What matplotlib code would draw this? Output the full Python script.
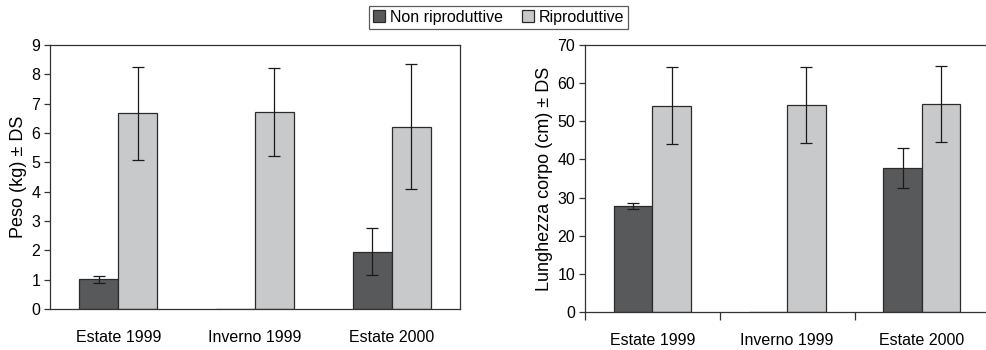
import matplotlib
matplotlib.use("Agg")
import matplotlib.pyplot as plt
import numpy as np

plt.rcParams['font.family'] = ['Liberation Sans', 'DejaVu Sans']

categories = ["Estate 1999", "Inverno 1999", "Estate 2000"]
series_names = ["Non riproduttive", "Riproduttive"]

peso_non = [1.02, 0.0, 1.95]
peso_non_sd = [0.12, 0.0, 0.80]
peso_rip = [6.67, 6.73, 6.22]
peso_rip_sd = [1.58, 1.50, 2.13]

lung_non = [27.8, 0.0, 37.8]
lung_non_sd = [0.9, 0.0, 5.2]
lung_rip = [54.1, 54.3, 54.5]
lung_rip_sd = [10.0, 10.0, 10.0]

dark = "#58595b"
light = "#c8c9cb"
edge = "#2b2b2b"

fig = plt.figure(figsize=(9.86, 3.5), dpi=100)
ax1 = fig.add_axes([0.0507, 0.1171, 0.4158, 0.7543])
ax2 = fig.add_axes([0.5933, 0.1086, 0.4100, 0.7629])

x = np.arange(len(categories))
w = 0.285
tfs = 11.5

def draw(ax, non, non_sd, rip, rip_sd):
    ekw = dict(ecolor="#1a1a1a", elinewidth=0.9, capsize=4.3, capthick=0.9)
    non_err = [s if s > 0 else np.nan for s in non_sd]
    ax.bar(x - w/2, non, w, color=dark, edgecolor=edge, linewidth=0.9,
           label=series_names[0], zorder=2)
    ax.errorbar(x - w/2, non, yerr=non_err, fmt='none', zorder=3, **ekw)
    ax.bar(x + w/2, rip, w, color=light, edgecolor=edge, linewidth=0.9,
           label=series_names[1], zorder=2)
    ax.errorbar(x + w/2, rip, yerr=rip_sd, fmt='none', zorder=3, **ekw)
    ax.set_xlim(-0.5, 2.5)
    for s in ax.spines.values():
        s.set_color("#333333")
        s.set_linewidth(0.9)
    ax.tick_params(axis='y', direction='out', length=4, width=0.9,
                   labelsize=tfs, color="#333333", pad=3)

draw(ax1, peso_non, peso_non_sd, peso_rip, peso_rip_sd)
ax1.set_ylim(0, 9)
ax1.set_yticks(range(0, 10))
ax1.set_xticks(x)
ax1.set_xticklabels(categories)
ax1.tick_params(axis='x', length=0, labelsize=tfs, pad=15)
ax1.set_ylabel("Peso (kg) ± DS", fontsize=13, labelpad=3)

draw(ax2, lung_non, lung_non_sd, lung_rip, lung_rip_sd)
ax2.set_ylim(0, 70)
ax2.set_yticks(range(0, 71, 10))
ax2.set_xticks([-0.5, 0.5, 1.5, 2.5])
ax2.set_xticklabels([])
ax2.set_xticks(x, minor=True)
ax2.set_xticklabels(categories, minor=True)
ax2.tick_params(axis='x', which='major', direction='out', length=6, width=0.9, color="#333333")
ax2.tick_params(axis='x', which='minor', length=0, labelsize=tfs, pad=15)
ax2.set_ylabel("Lunghezza corpo (cm) ± DS", fontsize=13, labelpad=3)

handles, labels = ax1.get_legend_handles_labels()
leg = fig.legend(handles, labels, loc='center', bbox_to_anchor=(0.5056, 0.951),
                 ncol=2, fontsize=11.5, frameon=True, fancybox=False,
                 handlelength=0.75, handleheight=0.75, handletextpad=0.3,
                 columnspacing=1.2, borderpad=0.25, borderaxespad=0)
leg.get_frame().set_edgecolor("#333333")
leg.get_frame().set_linewidth(0.9)

fig.savefig("out.png", dpi=100)
